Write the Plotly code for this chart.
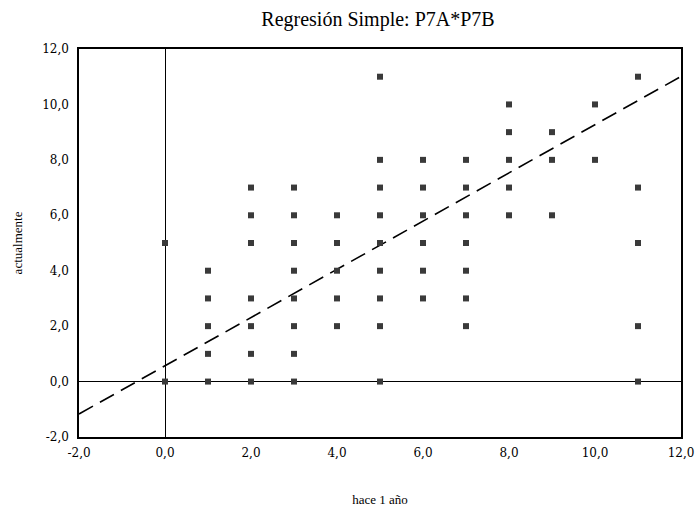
import plotly.graph_objects as go

# Observed points (hace 1 año -> actualmente)
pts_x = [0, 0,
         1, 1, 1, 1, 1,
         2, 2, 2, 2, 2, 2, 2,
         3, 3, 3, 3, 3, 3, 3, 3,
         4, 4, 4, 4, 4,
         5, 5, 5, 5, 5, 5, 5, 5, 5,
         6, 6, 6, 6, 6, 6,
         7, 7, 7, 7, 7, 7, 7,
         8, 8, 8, 8, 8,
         9, 9, 9,
         10, 10,
         11, 11, 11, 11, 11]
pts_y = [5, 0,
         4, 3, 2, 1, 0,
         7, 6, 5, 3, 2, 1, 0,
         7, 6, 5, 4, 3, 2, 1, 0,
         6, 5, 4, 3, 2,
         11, 8, 7, 6, 5, 4, 3, 2, 0,
         8, 7, 6, 5, 4, 3,
         8, 7, 6, 5, 4, 3, 2,
         10, 9, 8, 7, 6,
         9, 8, 6,
         10, 8,
         11, 7, 5, 2, 0]

# Regression line parameters
intercept = 0.57
slope = 0.87
line_x = [-2, 12]
line_y = [intercept + slope * v for v in line_x]

tick_vals = [-2, 0, 2, 4, 6, 8, 10, 12]
tick_text = ["-2,0", "0,0", "2,0", "4,0", "6,0", "8,0", "10,0", "12,0"]

serif = "Liberation Serif, DejaVu Serif, serif"
tick_font = dict(family="DejaVu Serif, serif", size=12, color="black")

fig = go.Figure()
fig.add_trace(go.Scatter(
    x=line_x, y=line_y, mode="lines",
    line=dict(color="black", width=1.6, dash="16px,8px"),
    hoverinfo="skip", showlegend=False))
fig.add_trace(go.Scatter(
    x=pts_x, y=pts_y, mode="markers",
    marker=dict(symbol="square", size=6, color="#3a3a3a"),
    showlegend=False))

fig.update_layout(
    width=700, height=508,
    margin=dict(l=79, r=19, t=49, b=71),
    paper_bgcolor="white", plot_bgcolor="white",
    font=dict(family=serif, size=13, color="black"),
    title=dict(text="Regresión Simple: P7A*P7B", x=0.54, xanchor="center",
               y=0.962, yanchor="middle", font=dict(size=20, family=serif)),
    xaxis=dict(range=[-2, 12], tickvals=tick_vals, ticktext=tick_text,
               tickfont=tick_font, automargin=False,
               showgrid=False, zeroline=True, zerolinecolor="black", zerolinewidth=1,
               showline=True, linecolor="black", linewidth=1.5, mirror=True,
               ticks="", ticklabelstandoff=4,
               title=dict(text="hace 1 año", font=dict(size=13), standoff=36)),
    yaxis=dict(range=[-2, 12], tickvals=tick_vals, ticktext=tick_text,
               tickfont=tick_font, automargin=False,
               showgrid=False, zeroline=True, zerolinecolor="black", zerolinewidth=1,
               showline=True, linecolor="black", linewidth=1.5, mirror=True,
               ticks="", ticklabelstandoff=6,
               title=dict(text="actualmente", font=dict(size=13), standoff=17)),
)

fig.write_html("out.html", config={"displayModeBar": False},
               post_script="document.body.style.margin='0';")
